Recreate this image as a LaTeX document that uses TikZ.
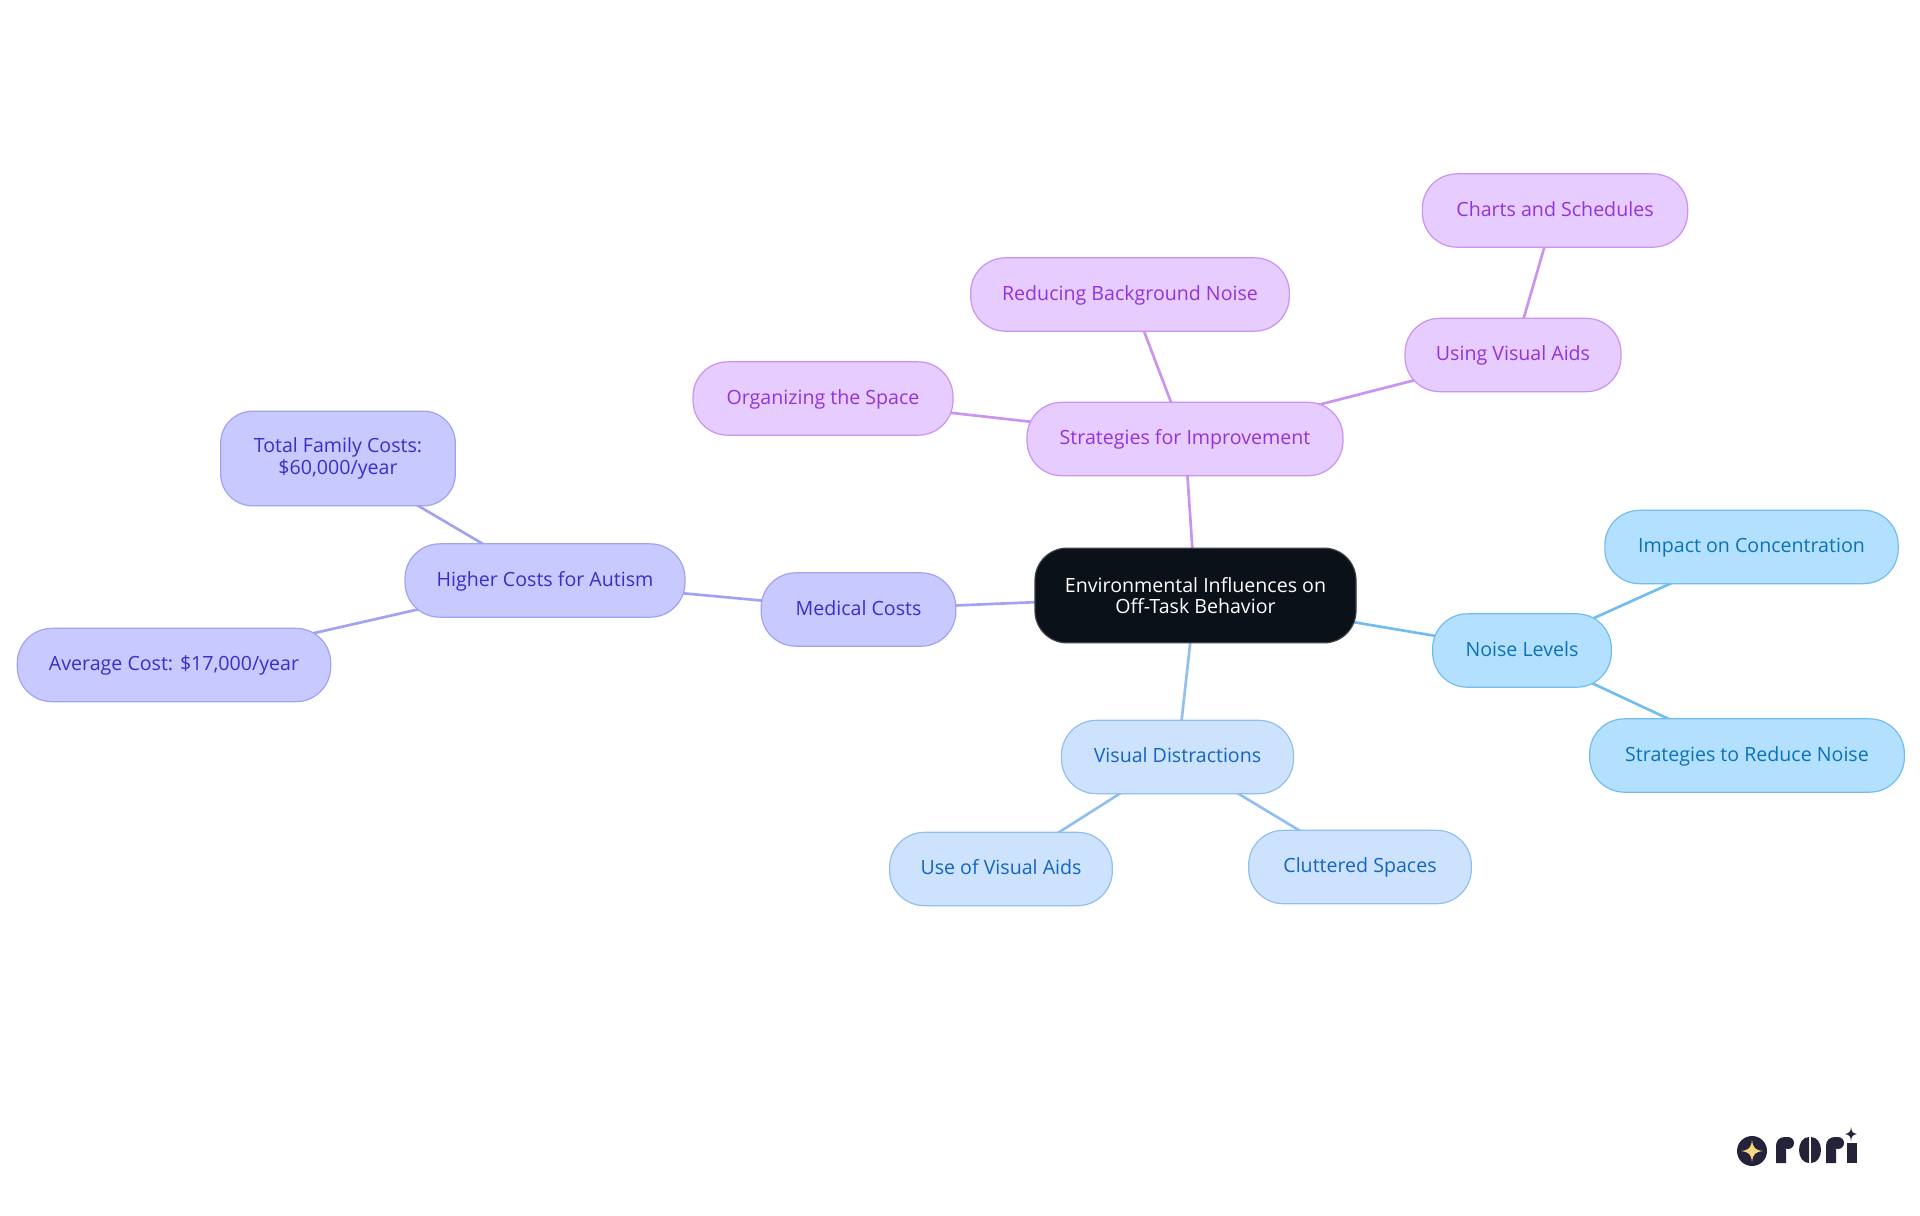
\documentclass[tikz,border=0pt]{standalone}
\usepackage{fontspec}
\setmainfont{Open Sans}
\usetikzlibrary{backgrounds}
\definecolor{rootfill}{HTML}{0B1119}
\definecolor{rootline}{HTML}{3A3F47}
\definecolor{purplefill}{HTML}{E6CCFF}
\definecolor{purpleline}{HTML}{C993F2}
\definecolor{purpletext}{HTML}{9333D9}
\definecolor{indigofill}{HTML}{C7C9FF}
\definecolor{indigoline}{HTML}{A1A3F2}
\definecolor{indigotext}{HTML}{3730C8}
\definecolor{bluefill}{HTML}{CCE2FD}
\definecolor{blueline}{HTML}{93BFF0}
\definecolor{bluetext}{HTML}{1565C0}
\definecolor{skyfill}{HTML}{B3E0FF}
\definecolor{skyline}{HTML}{72BDF0}
\definecolor{skytext}{HTML}{0A72B8}
\definecolor{logodark}{HTML}{25233A}
\definecolor{logostar}{HTML}{F9D77E}
\tikzset{
  mapnode/.style={rounded corners=26pt,inner sep=0pt,align=center,font=\fontsize{14.7pt}{16pt}\selectfont,line width=0.9pt,text height=12pt,text depth=3.6pt},
  twolines/.style={rounded corners=24pt,text height=,text depth=},
  rootnode/.style={mapnode,fill=rootfill,draw=rootline,text=white},
  purplenode/.style={mapnode,fill=purplefill,draw=purpleline,text=purpletext},
  indigonode/.style={mapnode,fill=indigofill,draw=indigoline,text=indigotext},
  bluenode/.style={mapnode,fill=bluefill,draw=blueline,text=bluetext},
  skynode/.style={mapnode,fill=skyfill,draw=skyline,text=skytext},
  purplelink/.style={draw=purpleline,line width=2pt},
  indigolink/.style={draw=indigoline,line width=2pt},
  bluelink/.style={draw=blueline,line width=2pt},
  skylink/.style={draw=skyline,line width=2pt}
}
\begin{document}
\begin{tikzpicture}[x=0.75pt,y=-0.75pt]
\useasboundingbox (0,0) rectangle (1920,1215);
% root
\node[rootnode,twolines,minimum width=240.75pt,minimum height=71pt] (root) at (1195.5,595.5) {Environmental Influences on\\Off-Task Behavior};
% strategies
\node[purplenode,minimum width=237pt,minimum height=55pt] (strategies) at (1185,439) {Strategies for Improvement};
\node[purplenode,minimum width=195pt,minimum height=55pt] (organizing) at (823,398.5) {Organizing the Space};
\node[purplenode,minimum width=239pt,minimum height=55pt] (reducing) at (1130,294.5) {Reducing Background Noise};
\node[purplenode,minimum width=162pt,minimum height=55pt] (usingaids) at (1513,355) {Using Visual Aids};
\node[purplenode,minimum width=199pt,minimum height=55pt] (charts) at (1555,210.5) {Charts and Schedules};
% costs
\node[indigonode,minimum width=146pt,minimum height=55pt] (medical) at (858.5,609.5) {Medical Costs};
\node[indigonode,minimum width=210pt,minimum height=55pt] (higher) at (545,580.5) {Higher Costs for Autism};
\node[indigonode,twolines,minimum width=176pt,minimum height=71pt] (family) at (338,458.5) {Total Family Costs:\\\$60,000/year};
\node[indigonode,minimum width=235pt,minimum height=55pt] (average) at (174,665) {Average Cost: \$17,000/year};
% noise
\node[skynode,minimum width=134pt,minimum height=55pt] (noise) at (1522,650.5) {Noise Levels};
\node[skynode,minimum width=220pt,minimum height=55pt] (impact) at (1751.5,547) {Impact on Concentration};
\node[skynode,minimum width=236pt,minimum height=55pt] (reducenoise) at (1747,755.5) {Strategies to Reduce Noise};
% visual
\node[bluenode,minimum width=174pt,minimum height=55pt] (visual) at (1177.5,757) {Visual Distractions};
\node[bluenode,minimum width=167pt,minimum height=55pt] (useaids) at (1001,869) {Use of Visual Aids};
\node[bluenode,minimum width=167pt,minimum height=55pt] (cluttered) at (1360,867) {Cluttered Spaces};
% links
\begin{scope}[on background layer]
\fill[white] (0,0) rectangle (1920,1215);
\draw[purplelink] (root.center) -- (strategies.center);
\draw[purplelink] (strategies.center) -- (organizing.center);
\draw[purplelink] (strategies.center) -- (reducing.center);
\draw[purplelink] (strategies.center) -- (usingaids.center);
\draw[purplelink] (usingaids.center) -- (charts.center);
\draw[indigolink] (root.center) -- (medical.center);
\draw[indigolink] (medical.center) -- (higher.center);
\draw[indigolink] (higher.center) -- (family.center);
\draw[indigolink] (higher.center) -- (average.center);
\draw[skylink] (root.center) -- (noise.center);
\draw[skylink] (noise.center) -- (impact.center);
\draw[skylink] (noise.center) -- (reducenoise.center);
\draw[bluelink] (root.center) -- (visual.center);
\draw[bluelink] (visual.center) -- (useaids.center);
\draw[bluelink] (visual.center) -- (cluttered.center);
\end{scope}
% logo
\fill[logodark] (1752,1151) circle (15);
\fill[logostar] (1752,1140) .. controls (1753,1148) and (1755,1150) .. (1763,1151) .. controls (1755,1152) and (1753,1154) .. (1752,1162) .. controls (1751,1154) and (1749,1152) .. (1741,1151) .. controls (1749,1150) and (1751,1148) .. (1752,1140) -- cycle;
\fill[logodark] (1776,1163) -- (1776,1146) .. controls (1776,1141) and (1779,1137) .. (1785,1137) -- (1787,1137) .. controls (1782,1140) and (1782,1146) .. (1786,1149) -- (1786,1163) -- cycle;
\fill[logodark] (1788,1143) circle (6);
\fill[logodark] (1809,1137) .. controls (1803,1137) and (1799,1143) .. (1799,1150) .. controls (1799,1157) and (1803,1163) .. (1809,1163) -- cycle;
\fill[logodark] (1811,1137) .. controls (1817,1137) and (1821,1143) .. (1821,1150) .. controls (1821,1157) and (1817,1163) .. (1811,1163) -- cycle;
\fill[logodark] (1826,1163) -- (1826,1146) .. controls (1826,1141) and (1829,1137) .. (1835,1137) -- (1837,1137) .. controls (1832,1140) and (1832,1146) .. (1836,1149) -- (1836,1163) -- cycle;
\fill[logodark] (1838,1143) circle (6);
\fill[logodark] (1847,1143) -- (1857,1143) -- (1857,1163) -- (1847,1163) -- cycle;
\fill[logodark] (1851,1127) .. controls (1851.5,1132) and (1852.5,1133) .. (1857,1134) .. controls (1852.5,1135) and (1851.5,1136) .. (1851,1141) .. controls (1850.5,1136) and (1849.5,1135) .. (1845,1134) .. controls (1849.5,1133) and (1850.5,1132) .. (1851,1127) -- cycle;
\end{tikzpicture}
\end{document}
